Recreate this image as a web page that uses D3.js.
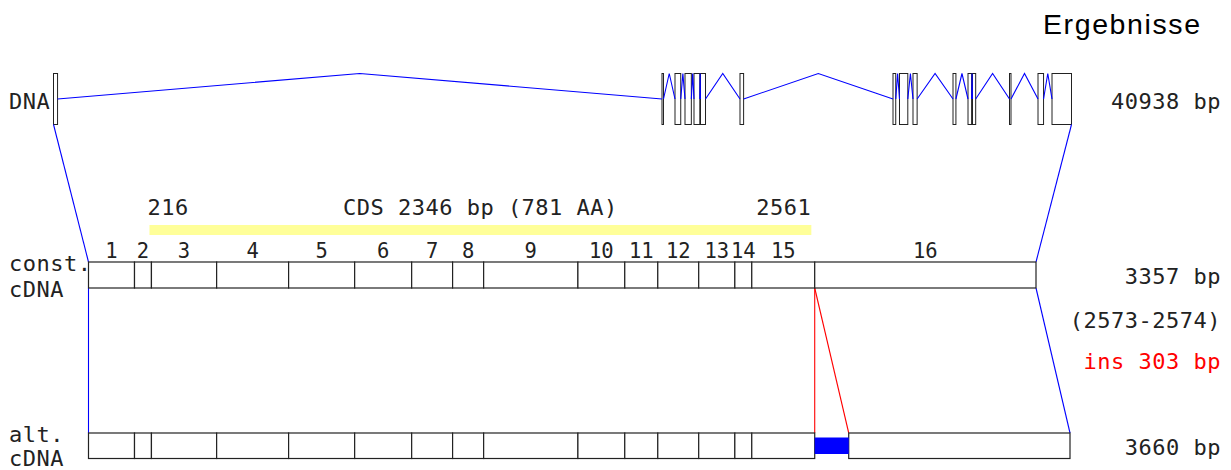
<!DOCTYPE html>
<html>
<head>
<meta charset="utf-8">
<script src="https://cdn.jsdelivr.net/npm/d3@7"></script>
<style>
  html, body { margin: 0; padding: 0; background: #fff; }
  svg { display: block; }
</style>
</head>
<body>
<svg id="chart" width="1231" height="470"></svg>
<script>
// ---- gene model data ----
const exonLabels = ["1","2","3","4","5","6","7","8","9","10","11","12","13","14","15","16"];
// exon lengths in the constitutive transcript (bp)
const exonLengths = [163, 60, 231, 255, 234, 202, 145, 110, 334, 166, 117, 145, 128, 60, 223, 784];
// exon start positions on the genomic locus (bp)
const exonGenomicStarts = [0, 24470, 24993, 25395, 25757, 26018, 27607, 33760, 34021, 34564, 36173, 36776, 36957, 38445, 39591, 40154];
const dnaLength = 40938;
const cdsRange = [216, 2561];
const insertionSite = [2573, 2574];
const insertionLength = 303;
const trackNames = [["DNA"], ["const.", "cDNA"], ["alt.", "cDNA"]];
const pageTitle = "Ergebnisse";

// ---- derived values ----
const constLength = d3.sum(exonLengths);
const altLength = constLength + insertionLength;
const cumEnds = d3.cumsum(exonLengths);
const exons = exonLengths.map((len, i) => ({
  label: exonLabels[i],
  len,
  cStart: cumEnds[i] - len,
  cEnd: cumEnds[i],
  gStart: exonGenomicStarts[i],
  gEnd: exonGenomicStarts[i] + len
}));
const cdsLen = cdsRange[1] - cdsRange[0] + 1;
const cdsAA = cdsLen / 3 - 1;

// ---- layout ----
const svg = d3.select("#chart");
const mono = "'DejaVu Sans Mono', monospace";
const textColor = "#222";
const boxStroke = "#222";
const blue = "#0000ff";
const red = "#ff0000";

const dnaY = { top: 73.5, bottom: 124.5 };
const constY = { top: 262, bottom: 288 };
const altY = { top: 433, bottom: 458.5 };
const dnaMid = (dnaY.top + dnaY.bottom) / 2;
const insWidth = 34;   // drawn width of the insertion glyph

const xDna = d3.scaleLinear().domain([0, dnaLength]).range([53.5, 1071.5]);
const xC = d3.scaleLinear().domain([0, constLength]).range([88.5, 1036]);
// alt transcript: same scale, exons downstream of the insertion shifted by its glyph
const shifted = d => d.cStart >= insertionSite[0];
const altX0 = d => xC(d.cStart) + (shifted(d) ? insWidth : 0);
const altX1 = d => xC(d.cEnd) + (shifted(d) ? insWidth : 0);
const insX = xC(insertionSite[0]);

// ---- title ----
svg.append("text")
  .attr("x", 1043).attr("y", 33.5)
  .attr("textLength", 157).attr("lengthAdjust", "spacing")
  .style("font-family", "'Liberation Sans', Arial, sans-serif")
  .style("font-size", "28.5px")
  .attr("fill", "#000")
  .text(pageTitle);

// ---- genomic track: exons and introns ----
const introns = d3.pairs(exons).map(([a, b]) => [
  [xDna(a.gEnd), dnaMid],
  [xDna((a.gEnd + b.gStart) / 2), dnaY.top],
  [xDna(b.gStart), dnaMid]
]);

svg.append("g").selectAll("rect")
  .data(exons).join("rect")
  .attr("x", d => xDna(d.gStart))
  .attr("y", dnaY.top)
  .attr("width", d => Math.max(xDna(d.gEnd) - xDna(d.gStart), 0.8))
  .attr("height", dnaY.bottom - dnaY.top)
  .attr("fill", "#fff")
  .attr("stroke", boxStroke)
  .attr("stroke-width", 1);

svg.append("g").selectAll("path")
  .data(introns).join("path")
  .attr("d", d3.line())
  .attr("fill", "none")
  .attr("stroke", blue)
  .attr("stroke-width", 1.1);

// ---- connectors ----
const last = exons[exons.length - 1];
const connectors = [
  { pts: [[xDna(0), dnaY.bottom], [xC(0), constY.top]], color: blue },
  { pts: [[xDna(dnaLength), dnaY.bottom], [xC(constLength), constY.top]], color: blue },
  { pts: [[xC(0), constY.bottom], [altX0(exons[0]), altY.top]], color: blue },
  { pts: [[xC(constLength), constY.bottom], [altX1(last), altY.top]], color: blue },
  { pts: [[insX, constY.bottom], [insX, altY.top]], color: red },
  { pts: [[insX, constY.bottom], [insX + insWidth, altY.top]], color: red }
];
svg.append("g").selectAll("path")
  .data(connectors).join("path")
  .attr("d", d => d3.line()(d.pts))
  .attr("fill", "none")
  .attr("stroke", d => d.color)
  .attr("stroke-width", 1.1);

// ---- CDS bar ----
svg.append("rect")
  .attr("x", xC(cdsRange[0]))
  .attr("y", 225)
  .attr("width", xC(cdsRange[1]) - xC(cdsRange[0]))
  .attr("height", 10)
  .attr("fill", "#ffff99");

const monoText = (x, y, txt, anchor = "start", size = 22, color = textColor) =>
  svg.append("text")
    .attr("x", x).attr("y", y)
    .attr("text-anchor", anchor)
    .style("font-family", mono)
    .style("font-size", size + "px")
    .style("letter-spacing", "0.5px")
    .attr("fill", color)
    .text(txt);

monoText(xC(cdsRange[0]) - 2, 215, String(cdsRange[0]));
monoText(xC(cdsRange[1]), 215, String(cdsRange[1]), "end");
monoText((xC(cdsRange[0]) + xC(cdsRange[1])) / 2, 215,
  `CDS ${cdsLen} bp (${cdsAA} AA)`, "middle");

// ---- constitutive cDNA ----
svg.append("g").selectAll("rect")
  .data(exons).join("rect")
  .attr("x", d => xC(d.cStart))
  .attr("y", constY.top)
  .attr("width", d => xC(d.cEnd) - xC(d.cStart))
  .attr("height", constY.bottom - constY.top)
  .attr("fill", "#fff")
  .attr("stroke", boxStroke)
  .attr("stroke-width", 1.2);

svg.append("g").selectAll("text")
  .data(exons).join("text")
  .attr("x", d => (xC(d.cStart) + xC(d.cEnd)) / 2)
  .attr("y", 258)
  .attr("text-anchor", "middle")
  .style("font-family", mono)
  .style("font-size", "20.5px")
  .attr("fill", textColor)
  .text(d => d.label);

// ---- alternative cDNA ----
svg.append("g").selectAll("rect")
  .data(exons).join("rect")
  .attr("x", altX0)
  .attr("y", altY.top)
  .attr("width", d => altX1(d) - altX0(d))
  .attr("height", altY.bottom - altY.top)
  .attr("fill", "#fff")
  .attr("stroke", boxStroke)
  .attr("stroke-width", 1.2);

svg.append("rect")
  .attr("x", insX)
  .attr("y", altY.top + 4.5)
  .attr("width", insWidth)
  .attr("height", altY.bottom - altY.top - 9)
  .attr("fill", blue);

// ---- track names ----
const nameLines = [
  [trackNames[0][0], 108.5],
  [trackNames[1][0], 270.5], [trackNames[1][1], 297],
  [trackNames[2][0], 442], [trackNames[2][1], 466]
];
nameLines.forEach(([t, y]) => monoText(9, y, t));

// ---- lengths and insertion notes ----
const rx = 1221;
monoText(rx, 108.5, `${dnaLength} bp`, "end");
monoText(rx, 284, `${constLength} bp`, "end");
monoText(rx, 327.5, `(${insertionSite[0]}-${insertionSite[1]})`, "end");
monoText(rx, 368.5, `ins ${insertionLength} bp`, "end", 22, red);
monoText(rx, 454.5, `${altLength} bp`, "end");
</script>
</body>
</html>
